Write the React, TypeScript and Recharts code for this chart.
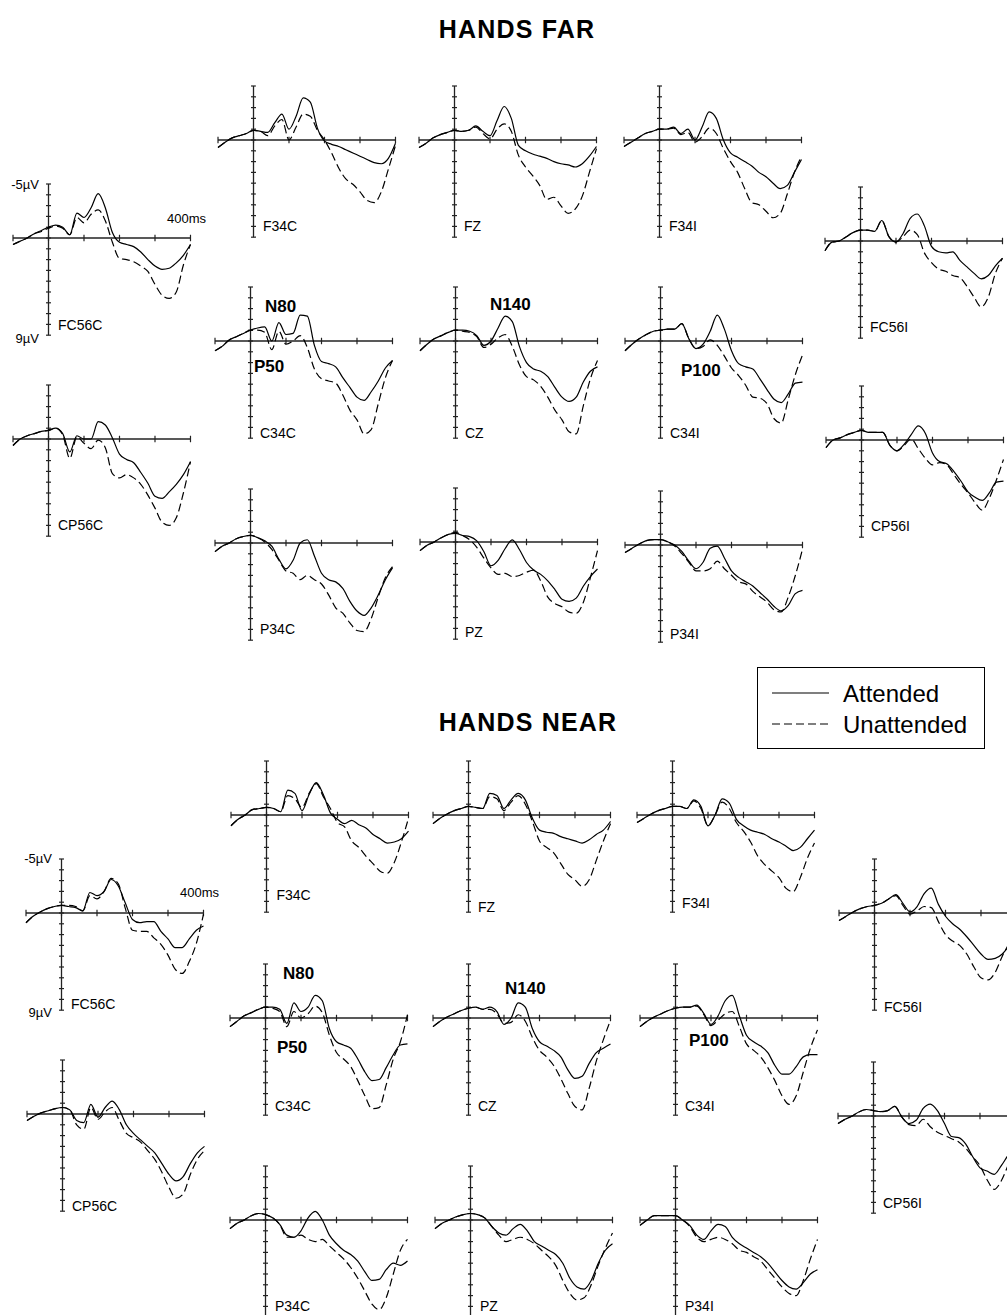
import React from "react";
import { LineChart, Line, XAxis, YAxis, ReferenceLine } from "recharts";

// time points (ms) shared by every waveform
const TIMES = [-100, -80, -60, -40, -20, 0, 20, 40, 60, 80, 100, 120, 140, 160, 180, 200, 220, 240, 260, 280, 300, 320, 340, 360, 380, 400];

const X_TICKS = [-100, 0, 100, 200, 300, 400];
const Y_TICKS = [-5, -4, -3, -2, -1, 0, 1, 2, 3, 4, 5, 6, 7, 8, 9];

// ---- HANDS FAR (µV, negative up) ----
const FAR_FC56C_ATT = [0.6, 0.3, 0.0, -0.4, -0.7, -1.0, -1.2, -1.0, -0.3, -2.3, -1.9, -2.8, -4.1, -2.8, -0.5, 0.4, 0.6, 0.8, 1.3, 2.0, 2.6, 2.9, 2.8, 2.3, 1.6, 0.6];
const FAR_FC56C_UN = [0.6, 0.3, 0.0, -0.4, -0.6, -0.9, -1.1, -0.9, -0.3, -1.9, -1.4, -2.2, -2.6, -1.6, 0.4, 1.9, 2.0, 2.2, 2.6, 3.1, 4.3, 5.3, 5.6, 5.0, 2.5, 0.6];
const FAR_F34C_ATT = [0.7, 0.2, -0.2, -0.4, -0.6, -0.9, -0.8, -0.7, -1.6, -2.4, -1.0, -2.2, -3.9, -3.5, -1.1, 0.1, 0.4, 0.6, 0.9, 1.2, 1.5, 1.8, 2.1, 2.2, 1.7, 0.3];
const FAR_F34C_UN = [0.7, 0.2, -0.2, -0.4, -0.6, -0.9, -0.8, -0.4, -1.3, -1.9, 0.0, -1.2, -2.4, -2.2, -0.9, 0.0, 1.2, 2.6, 3.6, 4.1, 4.8, 5.6, 5.8, 4.8, 2.7, 0.5];
const FAR_FZ_ATT = [0.7, 0.3, -0.2, -0.5, -0.7, -0.9, -0.8, -0.9, -1.3, -0.8, -0.4, -1.8, -3.1, -2.0, 0.5, 1.0, 1.3, 1.5, 1.7, 2.0, 2.2, 2.3, 2.5, 2.2, 1.5, 0.6];
const FAR_FZ_UN = [0.7, 0.3, -0.2, -0.5, -0.7, -0.9, -0.8, -0.9, -1.2, -0.6, -0.1, -1.0, -1.5, -0.8, 1.4, 2.5, 3.3, 4.2, 5.5, 5.3, 6.1, 6.8, 6.4, 5.2, 3.0, 0.8];
const FAR_F34I_ATT = [0.6, 0.2, -0.2, -0.6, -0.8, -1.0, -1.0, -1.2, -0.6, -1.0, 0.0, -1.2, -2.6, -2.0, 0.0, 1.2, 1.6, 2.0, 2.4, 3.0, 3.4, 4.0, 4.5, 4.2, 3.0, 1.8];
const FAR_F34I_UN = [0.6, 0.2, -0.2, -0.6, -0.8, -1.0, -1.0, -1.1, -0.5, -0.7, 0.2, -0.3, -1.1, -0.6, 0.8, 2.0, 3.0, 4.5, 5.8, 6.0, 6.6, 7.2, 6.8, 5.0, 3.0, 1.5];
const FAR_FC56I_ATT = [0.9, 0.1, 0.0, -0.4, -0.8, -1.0, -1.0, -0.9, -1.9, -0.4, 0.1, -0.7, -2.1, -2.5, -1.4, 0.5, 1.0, 1.1, 1.0, 1.8, 2.4, 3.0, 3.5, 3.2, 2.3, 1.6];
const FAR_FC56I_UN = [0.9, 0.1, 0.0, -0.4, -0.8, -1.0, -1.0, -0.9, -1.9, -0.4, 0.1, -0.4, -1.0, -0.6, 1.1, 2.0, 2.6, 2.8, 3.2, 3.4, 4.2, 5.2, 6.1, 5.2, 3.0, 1.6];
const FAR_C34C_ATT = [0.9, 0.5, -0.1, -0.4, -0.7, -1.0, -1.2, -1.3, 0.0, -1.7, -0.6, -0.7, -2.4, -2.3, 0.4, 1.9, 2.1, 2.4, 3.4, 4.3, 5.2, 5.5, 4.7, 3.7, 2.5, 1.8];
const FAR_C34C_UN = [0.9, 0.5, -0.1, -0.4, -0.7, -1.0, -1.0, -0.8, 0.8, -0.9, 0.3, 0.0, -0.5, 0.6, 2.6, 3.5, 3.7, 3.9, 5.0, 6.4, 7.3, 8.6, 8.2, 5.8, 3.4, 1.8];
const FAR_CZ_ATT = [0.9, 0.3, -0.2, -0.5, -0.8, -1.0, -1.0, -0.9, -0.5, 0.4, 0.0, -1.2, -2.3, -1.8, 0.5, 2.0, 2.6, 2.8, 3.3, 4.3, 5.2, 5.6, 5.2, 3.8, 2.8, 2.4];
const FAR_CZ_UN = [0.9, 0.3, -0.2, -0.5, -0.8, -1.0, -0.9, -0.8, -0.4, 0.6, 0.3, -0.3, -0.6, 0.5, 2.2, 3.3, 3.6, 4.2, 5.2, 6.4, 7.3, 8.4, 8.6, 6.0, 3.5, 1.8];
const FAR_C34I_ATT = [0.9, 0.3, -0.2, -0.6, -0.9, -1.0, -1.1, -1.1, -1.6, -0.2, 0.7, 0.3, -0.9, -2.4, -1.1, 0.9, 2.1, 2.4, 2.6, 3.5, 4.5, 5.4, 5.7, 4.9, 3.9, 3.8];
const FAR_C34I_UN = [0.9, 0.3, -0.2, -0.6, -0.9, -1.0, -1.1, -1.1, -1.6, -0.2, 0.7, 0.5, -0.1, 0.4, 1.4, 2.5, 3.2, 4.1, 5.2, 5.3, 5.8, 7.2, 7.6, 5.4, 3.1, 1.3];
const FAR_CP56C_ATT = [0.6, 0.0, -0.3, -0.5, -0.7, -0.8, -1.0, -0.5, 1.2, -0.3, 0.0, 0.0, -1.6, -1.3, -0.1, 1.4, 1.9, 2.2, 3.1, 4.1, 5.3, 5.5, 4.9, 4.2, 3.3, 2.1];
const FAR_CP56C_UN = [0.6, 0.0, -0.3, -0.5, -0.7, -0.8, -1.0, -0.4, 1.8, -0.2, 0.4, 0.9, 0.1, 0.8, 3.2, 3.6, 3.3, 3.6, 4.2, 5.2, 6.4, 7.7, 8.0, 7.3, 5.0, 2.1];
const FAR_CP56I_ATT = [0.7, 0.0, -0.2, -0.5, -0.7, -0.9, -0.7, -0.7, -0.7, 0.5, 1.0, 0.4, -0.5, -1.3, -0.6, 1.2, 2.0, 2.2, 2.9, 3.8, 4.8, 5.3, 5.6, 4.9, 3.9, 3.8];
const FAR_CP56I_UN = [0.7, 0.0, -0.2, -0.5, -0.7, -0.9, -0.7, -0.7, -0.7, 0.5, 1.0, 0.5, -0.1, 0.8, 1.7, 2.3, 2.1, 2.3, 3.2, 4.1, 4.9, 5.8, 6.5, 5.4, 3.7, 1.8];
const FAR_P34C_ATT = [0.8, 0.3, 0.0, -0.4, -0.6, -0.7, -0.5, -0.2, 0.3, 1.5, 2.4, 1.6, 0.0, -0.3, 1.2, 2.8, 3.4, 3.6, 4.2, 5.4, 6.3, 6.7, 6.0, 4.8, 3.4, 2.3];
const FAR_P34C_UN = [0.8, 0.3, 0.0, -0.4, -0.6, -0.7, -0.5, -0.1, 0.6, 1.6, 2.6, 2.8, 3.4, 3.0, 3.4, 3.8, 4.8, 6.0, 6.5, 7.4, 8.1, 8.2, 7.0, 5.0, 3.2, 2.2];
const FAR_PZ_ATT = [0.8, 0.3, 0.0, -0.4, -0.7, -0.8, -0.6, -0.5, -0.1, 0.9, 2.2, 1.7, 0.6, -0.2, 0.7, 1.9, 2.6, 3.0, 3.6, 4.4, 5.3, 5.5, 5.2, 4.1, 3.2, 2.5];
const FAR_PZ_UN = [0.8, 0.3, 0.0, -0.4, -0.7, -0.9, -0.6, -0.2, 0.5, 1.5, 2.4, 3.0, 2.9, 3.2, 3.1, 2.8, 2.6, 3.6, 5.1, 5.7, 6.0, 6.5, 6.6, 5.6, 3.3, 0.8];
const FAR_P34I_ATT = [0.7, 0.3, -0.1, -0.4, -0.5, -0.5, -0.3, 0.0, 0.6, 1.5, 2.2, 1.6, 0.3, 0.1, 1.2, 2.4, 3.0, 3.4, 3.8, 4.4, 5.0, 5.7, 6.1, 5.6, 4.5, 4.2];
const FAR_P34I_UN = [0.7, 0.3, -0.1, -0.4, -0.5, -0.5, -0.3, 0.1, 0.8, 1.6, 2.4, 2.4, 2.2, 1.5, 2.2, 2.8, 3.4, 3.6, 4.3, 4.8, 5.3, 6.0, 6.2, 4.8, 2.8, 0.4];

// ---- HANDS NEAR ----
const NEAR_FC56C_ATT = [0.9, 0.3, -0.1, -0.4, -0.6, -0.7, -0.6, -0.5, -0.2, -1.9, -1.6, -2.0, -3.1, -2.5, -0.9, 0.6, 0.9, 0.8, 0.8, 1.7, 2.4, 3.2, 3.2, 2.4, 1.6, 1.2];
const NEAR_FC56C_UN = [0.9, 0.3, -0.1, -0.4, -0.6, -0.7, -0.7, -0.6, -0.2, -1.6, -1.3, -2.0, -3.2, -2.7, -0.4, 1.6, 1.7, 1.7, 2.3, 2.9, 3.9, 5.2, 5.6, 4.5, 2.8, 0.1];
const NEAR_F34C_ATT = [1.0, 0.4, 0.0, -0.5, -0.6, -0.7, -0.6, -0.3, -2.3, -2.0, -0.4, -1.9, -3.0, -1.9, -0.2, 0.4, 0.8, 0.5, 0.9, 1.2, 1.8, 2.2, 2.6, 2.5, 2.2, 1.5];
const NEAR_F34C_UN = [1.0, 0.4, 0.0, -0.5, -0.6, -0.7, -0.6, -0.3, -1.8, -1.5, -0.7, -2.0, -2.9, -1.7, -0.6, 0.7, 1.1, 2.4, 3.0, 3.8, 4.5, 5.2, 5.4, 4.4, 2.5, 0.3];
const NEAR_FZ_ATT = [0.8, 0.3, -0.1, -0.4, -0.6, -0.8, -0.7, -0.6, -2.0, -1.8, -0.6, -1.4, -2.0, -1.4, 0.3, 1.4, 1.6, 1.7, 2.0, 2.2, 2.4, 2.6, 2.3, 1.8, 1.4, 0.6];
const NEAR_FZ_UN = [0.8, 0.3, -0.1, -0.4, -0.6, -0.8, -0.7, -0.6, -1.7, -1.5, -0.4, -1.2, -1.8, -1.0, 0.6, 2.4, 3.0, 3.5, 4.5, 5.5, 6.0, 6.6, 6.0, 4.2, 2.4, 0.8];
const NEAR_F34I_ATT = [0.7, 0.3, -0.1, -0.4, -0.6, -0.8, -0.8, -0.6, -1.4, -0.8, 1.0, 0.0, -1.5, -1.1, 0.4, 1.0, 1.4, 1.6, 1.8, 2.2, 2.5, 2.9, 3.3, 3.0, 2.2, 1.4];
const NEAR_F34I_UN = [0.7, 0.3, -0.1, -0.4, -0.6, -0.8, -0.8, -0.6, -1.3, -0.6, 1.0, 0.0, -1.2, -0.6, 0.7, 1.5, 2.5, 3.8, 4.6, 5.2, 5.8, 6.8, 7.1, 5.8, 4.0, 2.6];
const NEAR_FC56I_ATT = [0.7, 0.3, -0.1, -0.4, -0.6, -0.7, -0.9, -1.3, -1.7, -0.9, -0.1, -0.6, -1.8, -2.3, -0.8, 0.3, 1.0, 1.5, 2.2, 3.0, 3.8, 4.3, 4.2, 3.8, 3.0, 2.0];
const NEAR_FC56I_UN = [0.7, 0.3, -0.1, -0.4, -0.6, -0.7, -0.9, -1.3, -1.6, -0.7, 0.1, -0.2, -0.6, -0.5, 0.8, 2.0, 2.6, 3.0, 3.8, 5.0, 6.0, 6.2, 5.5, 4.0, 2.8, 1.8];
const NEAR_C34C_ATT = [0.8, 0.3, -0.2, -0.5, -0.8, -1.0, -1.0, -0.8, 0.5, -1.4, -0.6, -1.0, -2.1, -1.6, 1.0, 2.2, 2.5, 2.8, 3.8, 5.0, 5.8, 5.7, 4.6, 3.4, 2.5, 2.4];
const NEAR_C34C_UN = [0.8, 0.3, -0.2, -0.5, -0.8, -1.0, -0.9, -0.6, 0.8, -0.6, 0.0, -0.4, -1.1, -0.5, 1.6, 3.2, 3.8, 4.5, 5.8, 7.2, 8.4, 8.3, 6.2, 3.8, 2.2, -0.3];
const NEAR_CZ_ATT = [0.8, 0.3, -0.1, -0.4, -0.7, -0.9, -1.0, -0.8, -1.0, -0.6, 0.6, 0.0, -1.4, -1.0, 1.0, 2.2, 2.6, 3.0, 3.6, 4.8, 5.6, 5.4, 4.2, 3.2, 2.8, 2.4];
const NEAR_CZ_UN = [0.8, 0.3, -0.1, -0.4, -0.7, -0.9, -1.0, -0.8, -0.8, -0.4, 0.5, 0.4, -0.3, 0.3, 1.8, 3.0, 3.6, 4.4, 5.6, 7.0, 8.2, 8.5, 6.5, 4.0, 2.0, 0.2];
const NEAR_C34I_ATT = [0.8, 0.3, -0.1, -0.4, -0.7, -0.9, -1.0, -1.0, -1.2, -0.4, 0.6, -0.2, -1.6, -2.1, -0.2, 1.6, 2.2, 2.6, 3.2, 4.4, 5.2, 5.2, 4.5, 3.6, 3.4, 3.4];
const NEAR_C34I_UN = [0.8, 0.3, -0.1, -0.4, -0.7, -0.9, -1.0, -1.0, -1.1, -0.3, 0.7, 0.2, -0.4, -0.6, 0.8, 2.4, 3.0, 3.6, 4.6, 5.8, 7.2, 8.0, 7.2, 5.0, 2.8, 1.1];
const NEAR_CP56C_ATT = [0.6, 0.2, -0.1, -0.3, -0.5, -0.6, -0.4, 0.6, 0.8, -0.9, 0.3, -0.6, -1.2, -0.4, 1.0, 1.8, 2.4, 3.0, 3.6, 4.6, 5.6, 6.2, 5.8, 4.6, 3.6, 3.0];
const NEAR_CP56C_UN = [0.6, 0.2, -0.1, -0.3, -0.5, -0.6, -0.4, 1.0, 1.4, -0.6, 0.5, -0.2, -0.6, 0.6, 1.8, 2.2, 2.6, 3.4, 4.2, 5.4, 6.8, 7.8, 7.4, 5.6, 4.2, 3.4];
const NEAR_CP56I_ATT = [0.7, 0.3, 0.0, -0.4, -0.6, -0.5, -0.4, -0.5, -0.9, 0.1, 0.7, 0.4, -0.7, -1.1, -0.5, 0.7, 1.9, 2.0, 2.6, 3.8, 4.8, 5.1, 5.4, 4.6, 3.6, 2.8];
const NEAR_CP56I_UN = [0.7, 0.3, 0.0, -0.4, -0.6, -0.5, -0.4, -0.5, -0.9, 0.1, 0.8, 0.9, 0.3, 1.0, 1.5, 1.8, 2.1, 2.4, 3.0, 3.8, 4.6, 5.9, 6.8, 6.0, 4.5, 3.0];
const NEAR_P34C_ATT = [0.8, 0.3, 0.0, -0.4, -0.6, -0.5, -0.2, 0.4, 1.4, 1.6, 1.0, -0.2, -0.8, 0.0, 1.4, 2.2, 2.8, 3.2, 3.8, 4.8, 5.6, 5.5, 4.6, 4.0, 4.2, 3.8];
const NEAR_P34C_UN = [0.8, 0.3, 0.0, -0.4, -0.6, -0.5, -0.2, 0.4, 1.6, 1.6, 1.4, 1.8, 2.0, 1.8, 2.4, 3.0, 3.6, 4.4, 5.4, 6.6, 7.8, 8.3, 7.2, 5.0, 2.8, 1.8];
const NEAR_PZ_ATT = [0.8, 0.3, 0.0, -0.3, -0.5, -0.6, -0.5, -0.2, 0.6, 1.2, 1.4, 0.8, 0.4, 1.0, 2.0, 2.4, 2.8, 3.2, 4.0, 5.4, 6.2, 6.4, 5.6, 4.0, 2.8, 2.2];
const NEAR_PZ_UN = [0.8, 0.3, 0.0, -0.3, -0.5, -0.6, -0.5, -0.2, 0.6, 1.4, 2.0, 1.8, 1.6, 1.8, 2.2, 2.8, 3.4, 4.2, 5.6, 6.8, 7.4, 7.2, 6.0, 4.2, 2.6, 1.2];
const NEAR_P34I_ATT = [0.5, 0.0, -0.4, -0.4, -0.4, -0.4, 0.0, 0.5, 1.4, 1.8, 1.0, 0.4, 0.6, 1.6, 2.2, 2.6, 3.0, 3.4, 4.0, 4.8, 5.6, 6.2, 6.4, 5.8, 5.0, 4.6];
const NEAR_P34I_UN = [0.5, 0.0, -0.4, -0.4, -0.4, -0.4, 0.0, 0.6, 1.6, 2.0, 1.8, 1.6, 1.8, 2.2, 2.8, 3.0, 3.4, 3.8, 4.6, 5.4, 6.2, 6.8, 7.0, 5.6, 3.6, 1.8];

const PX_MS = 0.355; // px per ms
const PX_UV = 10.8; // px per µV
const PAD = 4;
const FONT = "'Liberation Sans', Arial, Helvetica, sans-serif";

interface Panel {
  name: string;
  x0: number; // page x of t = 0
  y0: number; // page y of 0 µV
  att: number[];
  un: number[];
  labelDy: number;
}

const PANELS: Panel[] = [
  { name: "FC56C", x0: 48, y0: 238, att: FAR_FC56C_ATT, un: FAR_FC56C_UN, labelDy: 87 },
  { name: "F34C", x0: 253, y0: 139.5, att: FAR_F34C_ATT, un: FAR_F34C_UN, labelDy: 86 },
  { name: "FZ", x0: 454, y0: 139.5, att: FAR_FZ_ATT, un: FAR_FZ_UN, labelDy: 86 },
  { name: "F34I", x0: 659, y0: 140, att: FAR_F34I_ATT, un: FAR_F34I_UN, labelDy: 86 },
  { name: "FC56I", x0: 860, y0: 241, att: FAR_FC56I_ATT, un: FAR_FC56I_UN, labelDy: 86 },
  { name: "C34C", x0: 250, y0: 341, att: FAR_C34C_ATT, un: FAR_C34C_UN, labelDy: 92 },
  { name: "CZ", x0: 455, y0: 341, att: FAR_CZ_ATT, un: FAR_CZ_UN, labelDy: 92 },
  { name: "C34I", x0: 660, y0: 341, att: FAR_C34I_ATT, un: FAR_C34I_UN, labelDy: 92 },
  { name: "CP56C", x0: 48, y0: 439, att: FAR_CP56C_ATT, un: FAR_CP56C_UN, labelDy: 86 },
  { name: "CP56I", x0: 861, y0: 440, att: FAR_CP56I_ATT, un: FAR_CP56I_UN, labelDy: 86 },
  { name: "P34C", x0: 250, y0: 543, att: FAR_P34C_ATT, un: FAR_P34C_UN, labelDy: 86 },
  { name: "PZ", x0: 455, y0: 542, att: FAR_PZ_ATT, un: FAR_PZ_UN, labelDy: 90 },
  { name: "P34I", x0: 660, y0: 545, att: FAR_P34I_ATT, un: FAR_P34I_UN, labelDy: 89 },

  { name: "F34C", x0: 266.5, y0: 814.5, att: NEAR_F34C_ATT, un: NEAR_F34C_UN, labelDy: 80 },
  { name: "FZ", x0: 468, y0: 815, att: NEAR_FZ_ATT, un: NEAR_FZ_UN, labelDy: 92 },
  { name: "F34I", x0: 672, y0: 815, att: NEAR_F34I_ATT, un: NEAR_F34I_UN, labelDy: 88 },
  { name: "FC56C", x0: 61, y0: 912.5, att: NEAR_FC56C_ATT, un: NEAR_FC56C_UN, labelDy: 91 },
  { name: "FC56I", x0: 874, y0: 913, att: NEAR_FC56I_ATT, un: NEAR_FC56I_UN, labelDy: 94 },
  { name: "C34C", x0: 265, y0: 1018, att: NEAR_C34C_ATT, un: NEAR_C34C_UN, labelDy: 88 },
  { name: "CZ", x0: 468, y0: 1018, att: NEAR_CZ_ATT, un: NEAR_CZ_UN, labelDy: 88 },
  { name: "C34I", x0: 675, y0: 1018, att: NEAR_C34I_ATT, un: NEAR_C34I_UN, labelDy: 88 },
  { name: "CP56C", x0: 62, y0: 1114, att: NEAR_CP56C_ATT, un: NEAR_CP56C_UN, labelDy: 92 },
  { name: "CP56I", x0: 873, y0: 1115.5, att: NEAR_CP56I_ATT, un: NEAR_CP56I_UN, labelDy: 87 },
  { name: "P34C", x0: 265, y0: 1220, att: NEAR_P34C_ATT, un: NEAR_P34C_UN, labelDy: 86 },
  { name: "PZ", x0: 470, y0: 1220, att: NEAR_PZ_ATT, un: NEAR_PZ_UN, labelDy: 86 },
  { name: "P34I", x0: 675, y0: 1220, att: NEAR_P34I_ATT, un: NEAR_P34I_UN, labelDy: 86 },
];

// bold component labels
const PEAK_LABELS = [
  { text: "N80", x: 265, y: 306 },
  { text: "P50", x: 254, y: 366 },
  { text: "N140", x: 490, y: 304 },
  { text: "P100", x: 681, y: 370 },
  { text: "N80", x: 283, y: 973 },
  { text: "P50", x: 277, y: 1047 },
  { text: "N140", x: 505, y: 988 },
  { text: "P100", x: 689, y: 1040 },
];

const ErpPanel = ({ p }: { p: Panel }) => {
  const rows = TIMES.map((t, i) => ({ t, att: p.att[i], un: p.un[i] }));
  const w = 500 * PX_MS + 2 * PAD;
  const h = 14 * PX_UV + 2 * PAD;
  const axis = "#222";
  return (
    <div style={{ position: "absolute", left: p.x0 - 100 * PX_MS - PAD, top: p.y0 - 5 * PX_UV - PAD }}>
      <LineChart width={w} height={h} data={rows} margin={{ top: PAD, right: PAD, bottom: PAD, left: PAD }}>
        <XAxis dataKey="t" type="number" domain={[-100, 400]} hide />
        <YAxis type="number" domain={[-5, 9]} reversed hide allowDataOverflow />
        <ReferenceLine x={0} stroke={axis} strokeWidth={1.3} />
        <ReferenceLine y={0} stroke={axis} strokeWidth={1.3} />
        {X_TICKS.map((t) => (
          <ReferenceLine key={"x" + t} segment={[{ x: t, y: -0.3 }, { x: t, y: 0.3 }]} stroke={axis} strokeWidth={1.2} />
        ))}
        {Y_TICKS.map((v) => (
          <ReferenceLine key={"y" + v} segment={[{ x: -7, y: v }, { x: 7, y: v }]} stroke={axis} strokeWidth={1.2} />
        ))}
        <Line dataKey="att" type="monotone" stroke="#000" strokeWidth={1.2} dot={false} isAnimationActive={false} />
        <Line dataKey="un" type="monotone" stroke="#000" strokeWidth={1.2} strokeDasharray="8 4" dot={false} isAnimationActive={false} />
      </LineChart>
    </div>
  );
};

const App = () => {
  const far = PANELS[0];
  const near = PANELS[16];
  return (
    <div style={{ position: "absolute", left: 0, top: 0, width: 1007, height: 1315, overflow: "hidden", background: "#fff" }}>
      {PANELS.map((p, i) => (
        <ErpPanel key={i} p={p} />
      ))}
      <svg width={1007} height={1315} style={{ position: "absolute", left: 0, top: 0, pointerEvents: "none" }} fontFamily={FONT}>
        <text x={517} y={29} textAnchor="middle" dominantBaseline="central" fontSize={25} fontWeight="bold" letterSpacing={1.2}>
          HANDS FAR
        </text>
        <text x={528} y={722} textAnchor="middle" dominantBaseline="central" fontSize={25} fontWeight="bold" letterSpacing={1.2}>
          HANDS NEAR
        </text>

        {PANELS.map((p, i) => (
          <text key={i} x={p.x0 + 10} y={p.y0 + p.labelDy} dominantBaseline="central" fontSize={14}>
            {p.name}
          </text>
        ))}

        {[far, near].map((p, i) => (
          <g key={i} fontSize={13}>
            <text x={p.x0 - 9} y={p.y0 - 5 * PX_UV} textAnchor="end" dominantBaseline="central">-5µV</text>
            <text x={p.x0 - 9} y={p.y0 + 9 * PX_UV + 3} textAnchor="end" dominantBaseline="central">9µV</text>
            <text x={p.x0 + 119} y={p.y0 - 20} dominantBaseline="central">400ms</text>
          </g>
        ))}

        {PEAK_LABELS.map((l, i) => (
          <text key={i} x={l.x} y={l.y} dominantBaseline="central" fontSize={17} fontWeight="bold">
            {l.text}
          </text>
        ))}

        <rect x={757.5} y={667.5} width={227} height={81} fill="none" stroke="#000" strokeWidth={1} />
        <line x1={772} y1={693} x2={829} y2={693} stroke="#000" strokeWidth={1.2} />
        <line x1={772} y1={724} x2={829} y2={724} stroke="#000" strokeWidth={1.2} strokeDasharray="8 4" />
        <text x={843} y={693} dominantBaseline="central" fontSize={24}>Attended</text>
        <text x={843} y={724} dominantBaseline="central" fontSize={24}>Unattended</text>
      </svg>
    </div>
  );
};

export default App;
